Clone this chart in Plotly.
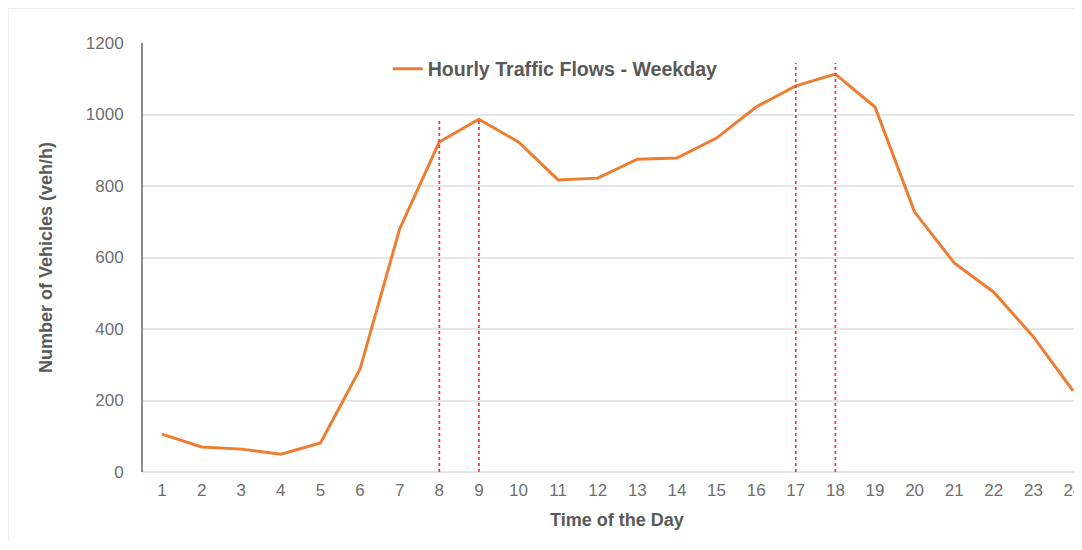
import plotly.graph_objects as go

# hourly flows (veh/h)
hours = list(range(1, 25))
flows = [106, 70, 64, 50, 81, 288, 680, 923, 987, 923, 817, 822,
         875, 878, 934, 1021, 1080, 1113, 1021, 727, 585, 503, 378, 227]

# peak-period markers: hour and how high the dashed line goes
peak_hours = [8, 9, 17, 18]
peak_tops = [990, 990, 1144, 1144]

series_name = '<b>Hourly Traffic Flows - Weekday</b>'
x_title = '<b>Time of the Day</b>'
y_title = '<b>Number of Vehicles (veh/h)</b>'
tick_vals_y = [0, 200, 400, 600, 800, 1000, 1200]

orange = '#ED7D31'
grey_txt = '#595959'
grey_tick = '#6e6e6e'
font_fam = 'Liberation Sans, Arial, sans-serif'

fig = go.Figure()

fig.add_trace(go.Scatter(
    x=hours, y=flows, mode='lines', name=series_name,
    line=dict(color=orange, width=3),
))

for h, top in zip(peak_hours, peak_tops):
    fig.add_shape(type='line', x0=h, x1=h, y0=0, y1=top,
                  xref='x', yref='y',
                  line=dict(color='#E8414F', width=1.8, dash='3px,3px'))

# light frame round the picture
fig.add_shape(type='rect', xref='paper', yref='paper',
              x0=-0.1448, x1=1.2, y0=-0.3, y1=1.0816,
              line=dict(color='#ebebeb', width=2), layer='below')

# x title as annotation: the source crop puts it a bit right of the visible centre
fig.add_annotation(text=x_title, xref='paper', yref='paper',
                   x=0.507, y=-0.112, showarrow=False,
                   xanchor='center', yanchor='middle',
                   font=dict(size=18, color=grey_txt, family=font_fam))

# page body adds an 8px margin, so the figure is shifted back by that much
fig.update_layout(
    width=1074, height=534,
    margin=dict(l=135, r=0, t=35, b=70),
    plot_bgcolor='white', paper_bgcolor='white',
    font=dict(family=font_fam, color=grey_tick),
    showlegend=True,
    legend=dict(x=0.262, y=0.985, xanchor='left', yanchor='top',
                orientation='h', bgcolor='rgba(0,0,0,0)',
                font=dict(size=19.6, color=grey_txt, family=font_fam),
                itemwidth=30),
)

fig.update_xaxes(
    range=[0.52, 24.1], tickmode='array', tickvals=hours,
    showgrid=False, zeroline=False, showline=False, ticks='',
    tickfont=dict(size=17, color=grey_tick), ticklabelstandoff=6,
    ticklabeloverflow='allow',
)

fig.update_yaxes(
    range=[0, 1200], tickmode='array', tickvals=tick_vals_y,
    showgrid=True, gridcolor='#e6e6e6', gridwidth=1.5,
    zeroline=True, zerolinecolor='#e6e6e6', zerolinewidth=1.5,
    showline=True, linecolor='#8c8c8c', linewidth=2,
    ticks='', tickfont=dict(size=17, color=grey_tick), ticklabelstandoff=14,
    title=dict(text=y_title, standoff=28,
               font=dict(size=18, color=grey_txt)),
)

fig.write_html('out.html')
